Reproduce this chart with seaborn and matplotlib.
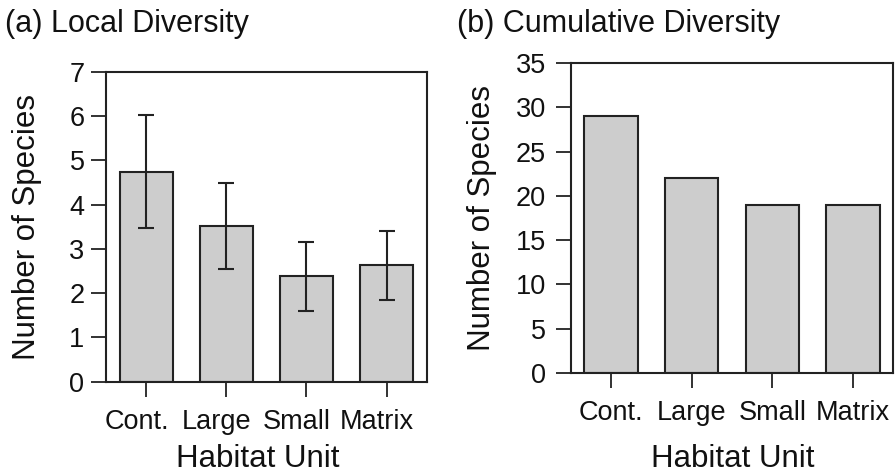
import matplotlib
matplotlib.use("Agg")
import matplotlib.pyplot as plt
import matplotlib.transforms as mtransforms
import seaborn as sns
import pandas as pd
import numpy as np

categories = ["Cont.", "Large", "Small", "Matrix"]
local_mean = [4.74, 3.51, 2.38, 2.63]
local_err = [1.28, 0.97, 0.78, 0.78]
cumulative = [29, 22, 19, 19]

sns.set_theme(style="white")
plt.rcParams["font.family"] = ["Liberation Sans", "DejaVu Sans"]

fig = plt.figure(figsize=(8.96, 4.74), dpi=100)
ax1 = fig.add_axes([0.1183, 0.1947, 0.3579, 0.654])
ax2 = fig.add_axes([0.637, 0.2137, 0.360, 0.6528])

df1 = pd.DataFrame({"unit": categories, "val": local_mean})
df2 = pd.DataFrame({"unit": categories, "val": cumulative})

bar_kw = dict(color="#cdcdcd", edgecolor="#222222", linewidth=1.5, width=0.66, errorbar=None)
sns.barplot(data=df1, x="unit", y="val", ax=ax1, **bar_kw)
sns.barplot(data=df2, x="unit", y="val", ax=ax2, **bar_kw)

ax1.errorbar(np.arange(len(categories)), local_mean, yerr=local_err, fmt="none",
             ecolor="#222222", elinewidth=1.5, capsize=5.5, capthick=1.5)

settings = [
    (ax1, 7, np.arange(0, 8, 1), 4.5, (-0.199, 0.5), (0.472, -0.201)),
    (ax2, 35, np.arange(0, 36, 5), 7, (-0.228, 0.5), (0.503, -0.229)),
]
for ax, ylim, yt, ypad, ylc, xlc in settings:
    ax.set_xlim(-0.5, 3.5)
    ax.set_ylim(0, ylim)
    ax.set_yticks(yt)
    ax.set_xticks(range(len(categories)))
    ax.set_xticklabels(categories)
    for s in ax.spines.values():
        s.set_visible(True)
        s.set_color("#222222")
        s.set_linewidth(1.5)
    ax.tick_params(axis="both", direction="out", length=11, width=1.3, color="#222222",
                   labelsize=19.5, labelcolor="#111111", bottom=True, left=True)
    ax.tick_params(axis="y", pad=ypad)
    ax.tick_params(axis="x", pad=9)
    ax.set_xlabel("Habitat Unit", fontsize=22.5, color="#111111", va="top")
    ax.set_ylabel("Number of Species", fontsize=22.5, color="#111111")
    ax.yaxis.set_label_coords(*ylc)
    ax.xaxis.set_label_coords(*xlc)

shift = mtransforms.ScaledTranslation(-9.5 / 100, 0, fig.dpi_scale_trans)
for lab in ax1.get_xticklabels():
    lab.set_transform(lab.get_transform() + shift)

fig.text(0.006, 0.932, "(a) Local Diversity", fontsize=22, color="#111111", ha="left", va="baseline")
fig.text(0.51, 0.932, "(b) Cumulative Diversity", fontsize=22, color="#111111", ha="left", va="baseline")

fig.savefig("out.png", dpi=100)
